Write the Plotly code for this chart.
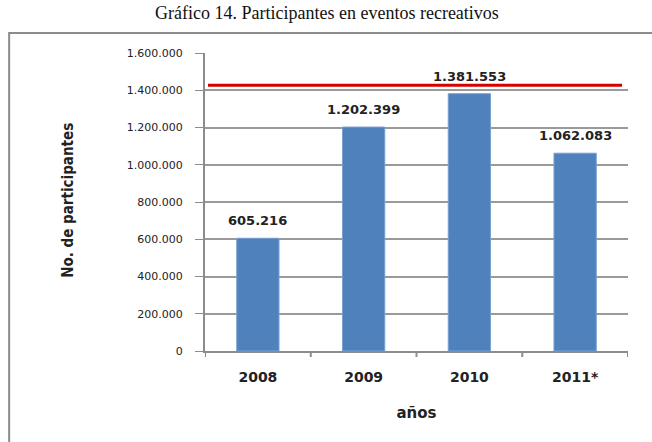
import plotly.graph_objects as go

years = ["2008", "2009", "2010", "2011*"]
participants = [605216, 1202399, 1381553, 1062083]
value_labels = ["605.216", "1.202.399", "1.381.553", "1.062.083"]
ref_level = 1427000
y_ticks = [0, 200000, 400000, 600000, 800000, 1000000, 1200000, 1400000, 1600000]
y_tick_text = ["0", "200.000", "400.000", "600.000", "800.000",
               "1.000.000", "1.200.000", "1.400.000", "1.600.000"]

xpos = list(range(len(years)))
label_font = dict(family="DejaVu Sans", size=13, color="#222", weight="bold")
GRAY = "#8c8c8c"

fig = go.Figure()
fig.add_trace(
    go.Bar(
        x=xpos,
        y=participants,
        width=0.4,
        marker=dict(color="#4f81bd", line=dict(color="#7aa0d0", width=1)),
        showlegend=False,
        customdata=years,
        hovertemplate="%{customdata}: %{y}<extra></extra>",
    )
)

# value labels above bars
for xi, v, t in zip(xpos, participants, value_labels):
    fig.add_annotation(
        x=xi, y=v, text=t, showarrow=False,
        yanchor="bottom", yshift=8, font=label_font,
    )

# red reference line
fig.add_shape(
    type="line", xref="paper", yref="y",
    x0=0.007, x1=0.986, y0=ref_level, y1=ref_level,
    line=dict(color="#d40000", width=3), layer="above",
)

# outer frame
fig.add_shape(
    type="rect", xref="paper", yref="paper",
    x0=-0.463, x1=1.1, y0=-0.4, y1=1.067,
    line=dict(color=GRAY, width=2), layer="below",
)

fig.add_annotation(
    text="Gráfico 14. Participantes en eventos recreativos",
    xref="paper", yref="paper", x=0.288, y=1.134, xanchor="center", yanchor="middle",
    showarrow=False,
    font=dict(family="Liberation Serif", size=18, color="#111"),
)

# y axis title
fig.add_annotation(
    text="No. de participantes",
    xref="paper", yref="paper", x=-0.324, y=0.507, xanchor="center", yanchor="middle",
    textangle=-90, showarrow=False,
    font=dict(family="DejaVu Sans Condensed", size=15, color="#222", weight="bold"),
)

fig.update_layout(
    width=652,
    height=442,
    margin=dict(l=205, r=24, t=53, b=91),
    paper_bgcolor="white",
    plot_bgcolor="white",
)

fig.update_xaxes(
    range=[-0.5, len(years) - 0.5],
    tickvals=xpos, ticktext=years,
    showline=True, linecolor=GRAY, linewidth=2,
    ticks="", showgrid=False, zeroline=False,
    ticklabelstandoff=12,
    tickfont=dict(family="DejaVu Sans", size=14, color="#222", weight="bold"),
    title=dict(text="años", font=dict(family="DejaVu Sans", size=15, color="#222", weight="bold"),
               standoff=24),
)
# tick marks between categories
for b in [x - 0.5 for x in xpos] + [len(years) - 0.5]:
    fig.add_shape(
        type="line", xref="x", yref="paper",
        x0=b, x1=b, y0=0, y1=-0.02,
        line=dict(color=GRAY, width=2),
    )

fig.update_yaxes(
    range=[0, 1600000],
    tickvals=y_ticks, ticktext=y_tick_text,
    showline=True, linecolor=GRAY, linewidth=2,
    ticks="outside", tickcolor=GRAY, ticklen=8,
    ticklabelstandoff=10,
    showgrid=True, gridcolor="#9a9a9a", gridwidth=1.5,
    zeroline=False,
    tickfont=dict(family="DejaVu Sans", size=11, color="#222"),
)

fig.write_html(
    "out.html",
    config={"displayModeBar": False},
    post_script="document.body.style.margin='0';",
)
